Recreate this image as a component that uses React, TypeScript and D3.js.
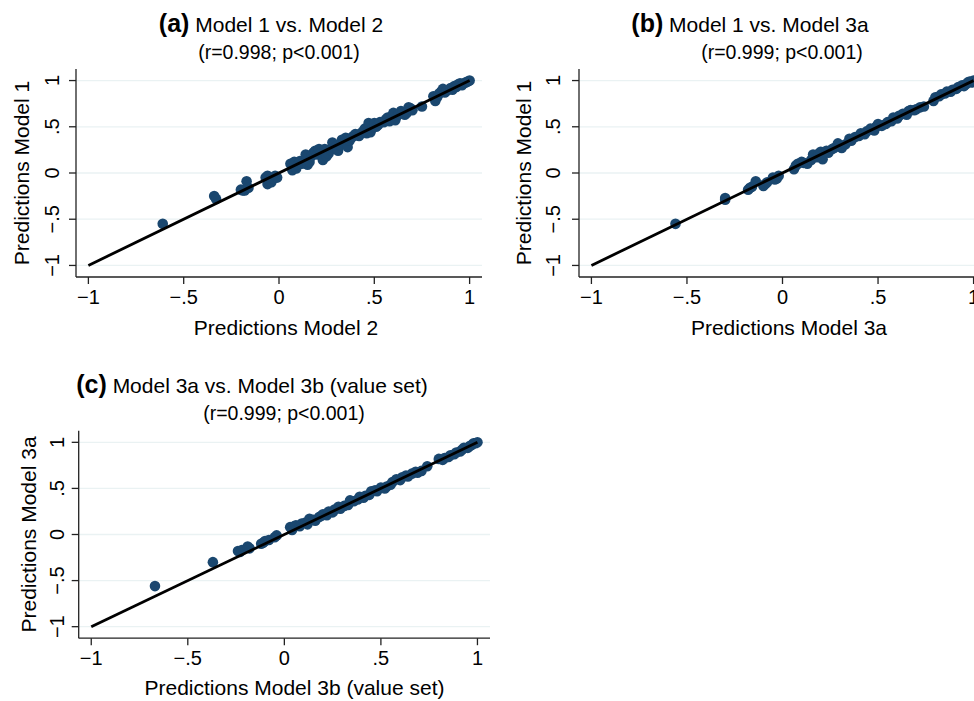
import React from "react";
import * as d3 from "d3";

const tickValues = [-1, -0.5, 0, 0.5, 1];
const tickLabels = ["\u22121", "\u2212.5", "0", ".5", "1"];

// (a) Predictions Model 2 (x) vs Predictions Model 1 (y)
const aX = [-0.61, -0.34, -0.33, -0.2, -0.19, -0.18, -0.17, -0.16, -0.07, -0.06, -0.06, -0.05, -0.04, -0.03, -0.02, -0.01,
  0.06, 0.07, 0.08, 0.09, 0.1, 0.11, 0.12, 0.14, 0.15, 0.16, 0.17, 0.18, 0.19, 0.2, 0.21, 0.22, 0.23, 0.24, 0.25, 0.26,
  0.27, 0.28, 0.29, 0.3, 0.31, 0.32, 0.33, 0.34, 0.35, 0.36, 0.37, 0.38, 0.39, 0.4, 0.41, 0.42, 0.43, 0.44, 0.45, 0.46,
  0.47, 0.48, 0.49, 0.5, 0.51, 0.52, 0.53, 0.55, 0.56, 0.57, 0.58, 0.59, 0.6, 0.61, 0.62, 0.63, 0.64, 0.65, 0.66, 0.67,
  0.68, 0.69, 0.7, 0.75, 0.81, 0.82, 0.83, 0.84, 0.85, 0.86, 0.87, 0.88, 0.9, 0.91, 0.92, 0.93, 0.94, 0.95, 0.96, 0.97,
  0.98, 0.99, 1.0];
const aY = [-0.55, -0.25, -0.28, -0.18, -0.19, -0.19, -0.09, -0.16, -0.05, -0.12, -0.03, -0.08, -0.1, -0.06, -0.03, -0.05,
  0.1, 0.03, 0.12, 0.05, 0.09, 0.13, 0.1, 0.2, 0.09, 0.12, 0.18, 0.22, 0.24, 0.2, 0.26, 0.22, 0.14, 0.26, 0.18, 0.21,
  0.25, 0.33, 0.27, 0.29, 0.24, 0.3, 0.36, 0.33, 0.38, 0.28, 0.35, 0.38, 0.4, 0.42, 0.41, 0.4, 0.43, 0.45, 0.48, 0.43,
  0.54, 0.44, 0.49, 0.54, 0.5, 0.52, 0.55, 0.55, 0.58, 0.6, 0.56, 0.61, 0.65, 0.57, 0.62, 0.64, 0.67, 0.66, 0.63, 0.65,
  0.71, 0.7, 0.68, 0.72, 0.83, 0.78, 0.82, 0.86, 0.88, 0.91, 0.87, 0.89, 0.92, 0.9, 0.94, 0.93, 0.96, 0.97, 0.95, 0.97,
  0.98, 0.99, 1.0];

// (b) Predictions Model 3a (x) vs Predictions Model 1 (y)
const bX = [-0.56, -0.3, -0.3, -0.18, -0.17, -0.16, -0.14, -0.1, -0.09, -0.08, -0.05, -0.04, -0.03, -0.02,
  0.06, 0.07, 0.08, 0.1, 0.11, 0.13, 0.15, 0.16, 0.18, 0.19, 0.2, 0.21, 0.23, 0.24, 0.26, 0.27, 0.29, 0.3, 0.31, 0.33,
  0.35, 0.36, 0.38, 0.4, 0.41, 0.43, 0.44, 0.46, 0.48, 0.49, 0.5, 0.52, 0.54, 0.55, 0.57, 0.58, 0.6, 0.61, 0.63, 0.65,
  0.66, 0.67, 0.69, 0.7, 0.72, 0.74, 0.79, 0.8, 0.82, 0.83, 0.85, 0.86, 0.88, 0.89, 0.91, 0.92, 0.94, 0.95, 0.96, 0.97,
  0.98, 0.99, 1.0];
const bY = [-0.55, -0.27, -0.29, -0.18, -0.16, -0.15, -0.09, -0.14, -0.12, -0.1, -0.05, -0.07, -0.06, -0.03,
  0.04, 0.08, 0.1, 0.12, 0.11, 0.1, 0.14, 0.2, 0.17, 0.21, 0.23, 0.15, 0.24, 0.22, 0.26, 0.27, 0.32, 0.29, 0.27, 0.31,
  0.37, 0.35, 0.39, 0.4, 0.43, 0.42, 0.45, 0.48, 0.46, 0.5, 0.53, 0.51, 0.53, 0.55, 0.56, 0.6, 0.59, 0.62, 0.64, 0.63,
  0.67, 0.68, 0.68, 0.69, 0.71, 0.72, 0.78, 0.82, 0.83, 0.85, 0.86, 0.88, 0.88, 0.9, 0.91, 0.93, 0.95, 0.94, 0.96, 0.98,
  0.99, 0.98, 1.0];

// (c) Predictions Model 3b (value set) (x) vs Predictions Model 3a (y)
const cX = [-0.67, -0.37, -0.24, -0.23, -0.22, -0.19, -0.18, -0.12, -0.11, -0.1, -0.08, -0.05, -0.04,
  0.03, 0.04, 0.05, 0.06, 0.08, 0.09, 0.11, 0.12, 0.13, 0.15, 0.16, 0.18, 0.19, 0.2, 0.22, 0.23, 0.25, 0.26, 0.28,
  0.29, 0.31, 0.33, 0.34, 0.36, 0.38, 0.39, 0.41, 0.42, 0.44, 0.45, 0.47, 0.48, 0.5, 0.52, 0.53, 0.55, 0.56, 0.58,
  0.6, 0.61, 0.63, 0.64, 0.66, 0.68, 0.69, 0.71, 0.74, 0.8, 0.82, 0.83, 0.85, 0.86, 0.88, 0.89, 0.91, 0.92, 0.93,
  0.95, 0.96, 0.97, 0.98, 0.99, 1.0];
const cY = [-0.56, -0.3, -0.18, -0.19, -0.17, -0.13, -0.15, -0.1, -0.09, -0.07, -0.06, -0.03, -0.01,
  0.08, 0.05, 0.09, 0.1, 0.09, 0.12, 0.13, 0.11, 0.17, 0.16, 0.15, 0.19, 0.2, 0.22, 0.21, 0.25, 0.24, 0.27, 0.3,
  0.28, 0.31, 0.32, 0.37, 0.36, 0.38, 0.41, 0.4, 0.42, 0.43, 0.47, 0.48, 0.47, 0.51, 0.5, 0.52, 0.54, 0.57, 0.6,
  0.59, 0.62, 0.64, 0.63, 0.66, 0.68, 0.67, 0.69, 0.74, 0.82, 0.81, 0.83, 0.84, 0.86, 0.87, 0.89, 0.9, 0.92, 0.94,
  0.94, 0.96, 0.97, 0.99, 0.99, 1.0];

const fitLine = [-1, 1];

const FONT = "'Liberation Sans', Arial, Helvetica, sans-serif";
const NAVY = "#1a476f";
const GRID = "#eaf2f3";
const AXIS = "#222";

type Layout = {
  left: number; right: number; top: number; bottom: number;
  titleX: number; titleY: number; subX: number; subY: number;
  xTickY: number; xTitleX: number; xTitleY: number;
  yTickX: number; yTitleX: number;
};

const Panel = ({ L, xs, ys, tag, title, sub, xTitle, yTitle }: {
  L: Layout; xs: number[]; ys: number[]; tag: string; title: string; sub: string; xTitle: string; yTitle: string;
}) => {
  const x = d3.scaleLinear().domain([-1.065, 1.065]).range([L.left, L.right]);
  const y = d3.scaleLinear().domain([-1.125, 1.125]).range([L.bottom, L.top]);
  const line = d3.line<number>().x((d) => x(d)).y((d) => y(d));
  const midY = (L.top + L.bottom) / 2;

  return (
    <g fontFamily={FONT} fill="#000">
      {/* gridlines */}
      {tickValues.map((v) => (
        <line key={"g" + v} x1={L.left} x2={L.right} y1={y(v)} y2={y(v)} stroke={GRID} strokeWidth={1.3} />
      ))}
      {/* points */}
      {xs.map((v, i) => (
        <circle key={i} cx={x(v)} cy={y(ys[i])} r={5.3} fill={NAVY} />
      ))}
      {/* 45-degree line */}
      <path d={line(fitLine) ?? ""} stroke="#000" strokeWidth={2.8} fill="none" />
      {/* axes */}
      <line x1={L.left} x2={L.left} y1={L.top} y2={L.bottom} stroke={AXIS} strokeWidth={1.3} />
      <line x1={L.left} x2={L.right} y1={L.bottom} y2={L.bottom} stroke={AXIS} strokeWidth={1.3} />
      {tickValues.map((v, i) => (
        <g key={"x" + v}>
          <line x1={x(v)} x2={x(v)} y1={L.bottom} y2={L.bottom + 7} stroke={AXIS} strokeWidth={1.3} />
          <text x={x(v)} y={L.xTickY} textAnchor="middle" fontSize={20}>{tickLabels[i]}</text>
        </g>
      ))}
      {tickValues.map((v, i) => (
        <g key={"y" + v}>
          <line x1={L.left - 7} x2={L.left} y1={y(v)} y2={y(v)} stroke={AXIS} strokeWidth={1.3} />
          <text transform={`translate(${L.yTickX},${y(v)}) rotate(-90)`} textAnchor="middle"
            dominantBaseline="central" fontSize={20}>{tickLabels[i]}</text>
        </g>
      ))}
      <text x={L.xTitleX} y={L.xTitleY} textAnchor="middle" fontSize={21}>{xTitle}</text>
      <text transform={`translate(${L.yTitleX},${midY}) rotate(-90)`} textAnchor="middle"
        dominantBaseline="central" fontSize={21}>{yTitle}</text>
      <text x={L.titleX} y={L.titleY} textAnchor="middle" fontSize={21}>
        <tspan fontWeight="bold" fontSize={25}>{tag}</tspan> {title}
      </text>
      <text x={L.subX} y={L.subY} textAnchor="middle" fontSize={19.5}>{sub}</text>
    </g>
  );
};

const layoutA: Layout = {
  left: 76, right: 482, top: 69, bottom: 277,
  titleX: 271, titleY: 32, subX: 279, subY: 59,
  xTickY: 304, xTitleX: 286, xTitleY: 335, yTickX: 52, yTitleX: 21,
};
const layoutB: Layout = {
  left: 579, right: 986, top: 69, bottom: 277,
  titleX: 750, titleY: 32, subX: 782, subY: 59,
  xTickY: 304, xTitleX: 789, xTitleY: 335, yTickX: 553, yTitleX: 523,
};
const layoutC: Layout = {
  left: 78.7, right: 490, top: 430.8, bottom: 638.2,
  titleX: 252, titleY: 393, subX: 284, subY: 420,
  xTickY: 665, xTitleX: 294.5, xTitleY: 695, yTickX: 57, yTitleX: 28,
};

export default function App() {
  return (
    <svg width={974} height={701} style={{ position: "absolute", left: 0, top: 0, background: "#fff" }}>
      <Panel L={layoutA} xs={aX} ys={aY} tag="(a)" title="Model 1 vs. Model 2" sub="(r=0.998; p<0.001)"
        xTitle="Predictions Model 2" yTitle="Predictions Model 1" />
      <Panel L={layoutB} xs={bX} ys={bY} tag="(b)" title="Model 1 vs. Model 3a" sub="(r=0.999; p<0.001)"
        xTitle="Predictions Model 3a" yTitle="Predictions Model 1" />
      <Panel L={layoutC} xs={cX} ys={cY} tag="(c)" title="Model 3a vs. Model 3b (value set)" sub="(r=0.999; p<0.001)"
        xTitle="Predictions Model 3b (value set)" yTitle="Predictions Model 3a" />
    </svg>
  );
}
